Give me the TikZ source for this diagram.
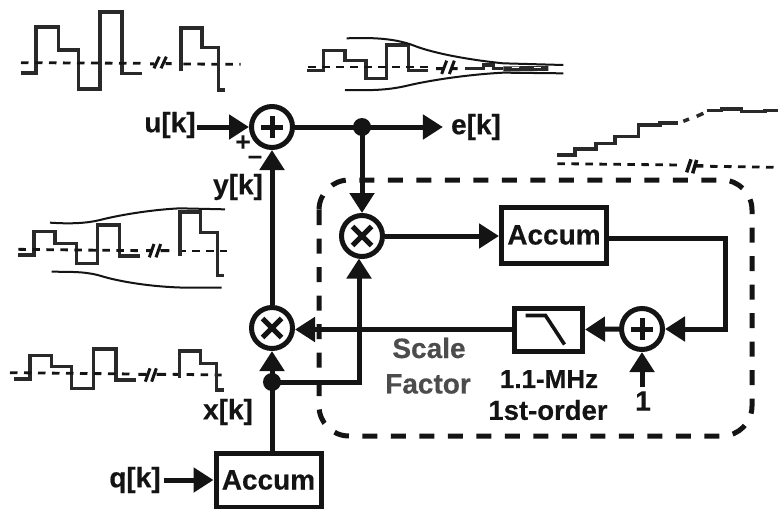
\documentclass[tikz,border=0pt]{standalone}
\usepackage{fontspec}
\setmainfont{Liberation Sans}[BoldFeatures={FakeBold=0.4}]
\usetikzlibrary{arrows.meta}
\definecolor{ink}{gray}{0.08}
\definecolor{wave}{gray}{0.16}
\tikzset{
  wire/.style={line width=5pt,draw=ink},
  arrowwire/.style={wire,-{Triangle[length=20pt,width=24pt]}},
  junction/.style={circle,fill=ink,inner sep=0pt,minimum size=18pt},
  opnode/.style={circle,draw=ink,line width=5pt,inner sep=0pt,minimum size=41pt},
  opmark/.style={line width=5pt,draw=ink},
  blockbox/.style={draw=ink,line width=5pt,inner sep=0pt,font=\fontsize{28}{28}\selectfont\bfseries,text=ink},
  lab/.style={font=\fontsize{28}{28}\selectfont\bfseries,text=ink,inner sep=0pt},
  greylab/.style={lab,text=black!70},
  sign/.style={font=\fontsize{26}{26}\selectfont\bfseries,text=ink,inner sep=0pt},
  wavetrace/.style={line width=3.5pt,draw=wave,miter limit=2},
  zero/.style={line width=2.8pt,draw=ink,dash pattern=on 7.5pt off 6.5pt},
  envelope/.style={line width=2pt,draw=ink},
  breakmark/.style={line width=3pt,draw=ink},
  boundary/.style={line width=5pt,draw=ink,dash pattern=on 15pt off 13.5pt,rounded corners=30pt},
  zoomed/.style={x=0.33333pt,y=-0.33333pt},
}
\begin{document}
\begin{tikzpicture}[x=1pt,y=-1pt]
\useasboundingbox (0,0) rectangle (778,508);
\fill[white] (0,0) rectangle (778,508);

% dashed boundary
\draw[boundary] (319,180) rectangle (752,436);

% nodes
\node[opnode] (add1) at (272,127) {};
\node[opnode] (mul1) at (362,236) {};
\node[opnode] (mul2) at (272,328) {};
\node[opnode] (add2) at (642,329) {};
\node[junction] (dot1) at (362,127) {};
\node[junction] (dot2) at (272,382) {};
\node[blockbox,minimum width=105pt,minimum height=56pt] (acc1) at (554,235) {Accum};
\node[blockbox,minimum width=105pt,minimum height=54pt] (acc2) at (268.5,480) {Accum};
\node[draw=ink,line width=5pt,minimum width=68pt,minimum height=43pt,inner sep=0pt] (lpf) at (548.5,329.5) {};
\node[lab] (u) at (170,125) {u[k]};
\node[lab] (e) at (476,127) {e[k]};
\node[lab] (y) at (238,187) {y[k]};
\node[lab] (x) at (228,412) {x[k]};
\node[lab] (q) at (135,480) {q[k]};
\node[lab] (one) at (643,401) {1};
\node[greylab] (scale) at (429,348) {Scale};
\node[greylab] (factor) at (428,384) {Factor};
\node[lab,font=\fontsize{26}{28}\selectfont\bfseries] (mhz) at (549,379) {1.1-MHz};
\node[lab,font=\fontsize{27.5}{28}\selectfont\bfseries] (order) at (548,410) {1st-order};
\node[sign] (plus) at (243,143) {+};
\node[sign] (minus) at (255,160) {\textendash};

% operator marks
\draw[opmark] ([xshift=-11pt]add1.center) -- ([xshift=11pt]add1.center) ([yshift=-11pt]add1.center) -- ([yshift=11pt]add1.center);
\draw[opmark] ([xshift=-11pt]add2.center) -- ([xshift=11pt]add2.center) ([yshift=-11pt]add2.center) -- ([yshift=11pt]add2.center);
\draw[opmark] ([shift={(-9.5pt,-9.5pt)}]mul1.center) -- ([shift={(9.5pt,9.5pt)}]mul1.center) ([shift={(-9.5pt,9.5pt)}]mul1.center) -- ([shift={(9.5pt,-9.5pt)}]mul1.center);
\draw[opmark] ([shift={(-9.5pt,-9.5pt)}]mul2.center) -- ([shift={(9.5pt,9.5pt)}]mul2.center) ([shift={(-9.5pt,9.5pt)}]mul2.center) -- ([shift={(9.5pt,-9.5pt)}]mul2.center);
% low-pass glyph
\draw[line width=3.6pt,draw=ink] ([shift={(-23pt,14pt)}]lpf.center) -- ([shift={(-3pt,14pt)}]lpf.center) -- ([shift={(16pt,-15pt)}]lpf.center);

% connectors
\draw[arrowwire] (u.east |- add1.west) ++(1pt,0) -- (add1.west);
\draw[wire] (add1.east) -- (dot1.center);
\draw[arrowwire] (dot1.center) -- ([xshift=-8pt]e.west |- dot1.center);
\draw[arrowwire] (dot1.center) -- (mul1.north);
\draw[arrowwire] (mul2.north) -- (add1.south);
\draw[arrowwire] (dot2.center) -- (mul2.south);
\draw[wire] (acc2.north -| dot2) -- (dot2.center);
\draw[wire,line join=miter] (dot2.center) -- (359,382) -- (359,300);
\draw[arrowwire] (359,300) -- (359,258.5);
\draw[arrowwire] (mul1.east) -- (acc1.west |- mul1.east);
\draw[arrowwire,line join=miter] (acc1.east |- 0,238) -- (725,238) -- (725,329) -- (add2.east);
\draw[arrowwire] (add2.west) -- (lpf.east);
\draw[arrowwire] (lpf.west) -- (mul2.east |- lpf.west);
\draw[arrowwire] ([yshift=4pt]one.north -| add2.south) -- (add2.south);
\draw[arrowwire] (q.east) ++(3pt,0) -- (acc2.west);

% waveform u[k]
\begin{scope}[zoomed]
\draw[wavetrace] (62,219)--(108,219)--(108,81)--(175,81)--(175,150)--(236,150)--(236,267)--(300,267)--(300,36)--(366,36)--(366,221)--(427,221);
\draw[zero] (63,188)--(432,190);
\draw[zero] (550,192)--(722,193);
\draw[breakmark] (450,192)--(462,192) (462,205)--(478,170) (483,205)--(499,170) (497,191)--(515,191);
\draw[wavetrace] (543,214)--(543,84)--(606,84)--(606,142)--(655,142)--(655,270)--(676,270);
\end{scope}

% waveform e[k]
\begin{scope}[zoomed,xshift=290pt,yshift=-20pt]
\draw[wavetrace] (52,152)--(100,152)--(100,92)--(165,92)--(165,122)--(228,122)--(228,175)--(290,175)--(290,75)--(355,75)--(355,152)--(415,152);
\draw[zero] (55,141)--(420,141);
\draw[breakmark] (438,146)--(462,146) (455,162)--(470,122) (478,162)--(493,122) (488,146)--(503,146);
\draw[wavetrace] (525,146)--(580,146)--(580,135)--(610,135)--(610,146)--(640,146);
\draw[line width=5pt,draw=wave] (640,147)--(775,145);
\draw[line width=1.5pt,draw=white,dash pattern=on 7pt off 15pt] (665,143)--(770,143);
\draw[envelope] (170,55) .. controls (250,52) and (320,55) .. (380,80) .. controls (450,105) and (560,122) .. (640,130) -- (820,135);
\draw[envelope] (165,210) .. controls (250,212) and (300,210) .. (360,195) .. controls (450,175) and (560,162) .. (640,158) -- (820,160);
\end{scope}

% waveform ramp
\begin{scope}[zoomed,xshift=540pt,yshift=-90pt]
\draw[wavetrace] (52,195)--(105,195)--(105,177)--(168,177)--(168,160)--(225,160)--(225,140)--(295,140)--(295,105)--(360,105)--(360,99)--(415,99);
\draw[wavetrace] (430,94)--(447,87) (470,79)--(490,70);
\draw[wavetrace] (500,62)--(545,62)--(545,57)--(605,57)--(605,65)--(675,65)--(675,62)--(714,62);
\draw[zero] (52,221)--(420,225);
\draw[zero] (510,229)--(714,232);
\draw[breakmark,line width=3.5pt] (440,247)--(453,208) (458,250)--(470,210) (465,228)--(490,228);
\end{scope}

% waveform y[k]
\begin{scope}[zoomed,yshift=-200pt]
\draw[wavetrace] (55,165)--(102,165)--(102,95)--(165,95)--(165,130)--(230,130)--(230,190)--(292,190)--(292,75)--(358,75)--(358,168)--(420,168);
\draw[zero] (55,148)--(420,152);
\draw[breakmark] (438,152)--(452,152) (448,172)--(462,132) (468,172)--(482,132) (482,152)--(508,152);
\draw[zero] (535,153)--(680,153);
\draw[wavetrace] (540,168)--(540,36)--(602,36)--(602,98)--(653,98)--(653,227)--(672,227);
\draw[envelope] (150,68) .. controls (210,72) and (260,70) .. (300,60) .. controls (370,42) and (470,28) .. (540,25) -- (675,28);
\draw[envelope] (155,215) .. controls (220,216) and (260,214) .. (310,230) .. controls (380,250) and (480,262) .. (560,263) -- (665,263);
\end{scope}

% waveform x[k]
\begin{scope}[zoomed,yshift=-200pt]
\draw[wavetrace] (42,537)--(90,537)--(90,467)--(155,467)--(155,500)--(215,500)--(215,565)--(280,565)--(280,447)--(348,447)--(348,540)--(408,540);
\draw[zero] (30,518)--(400,522);
\draw[breakmark] (415,523)--(438,523) (436,545)--(450,505) (455,545)--(469,505) (470,523)--(498,523);
\draw[zero] (518,523)--(665,525);
\draw[wavetrace] (538,533)--(538,453)--(602,453)--(602,490)--(650,490)--(650,570)--(672,570);
\end{scope}
\end{tikzpicture}
\end{document}
